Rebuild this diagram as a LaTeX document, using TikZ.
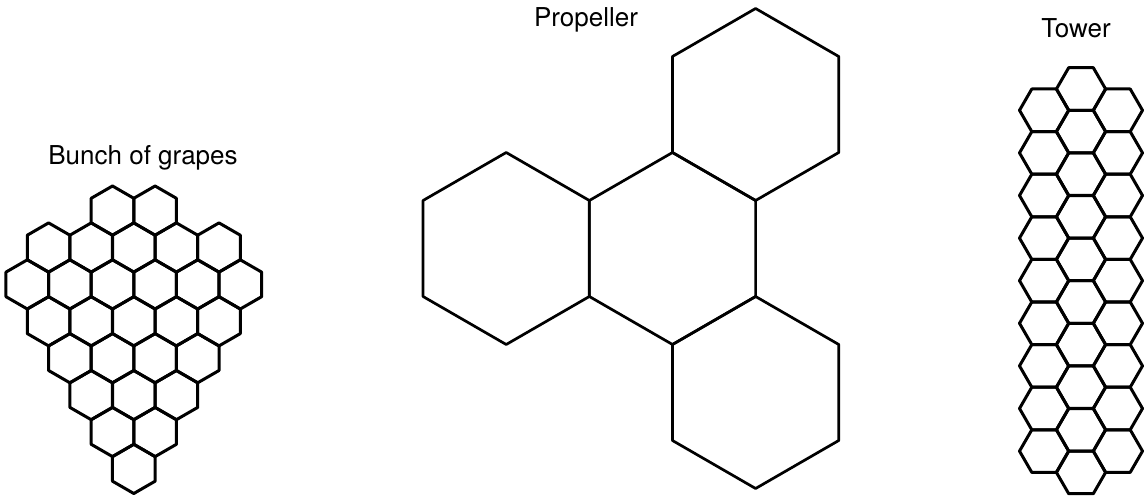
\documentclass[tikz,border=0pt]{standalone}
\usepackage{fontspec}
\setmainfont{TeX Gyre Heros}
\usetikzlibrary{shapes.geometric, positioning}

\begin{document}
\begin{tikzpicture}[
  x=1pt, y=-1pt,
  cell/.style={
    regular polygon, regular polygon sides=6, draw=black, line width=3pt,
    line join=round, minimum size=49.2pt, inner sep=0pt, outer sep=0pt},
  upcell/.style={cell, shape border rotate=30},
  blade/.style={upcell, minimum size=192pt, line width=2.7pt},
  lbl/.style={font=\fontsize{26}{30}\selectfont, anchor=base, inner sep=0pt}
]
\useasboundingbox (0,0) rectangle (1146,497);
% ── Bunch of grapes ──
\foreach \r/\a/\n in {1/4/2, 2/1/5, 3/0/6, 4/1/5, 5/2/4, 6/3/3, 7/4/2, 8/5/1}
  \foreach \i in {1,...,\n}
    \node[upcell] (g-\r-\i) at ({27.3 + (\a + 2*(\i-1))*21.3}, {210.6 + (\r-1)*36.9}) {};
% ── Propeller ──
\node[blade] (hub)    at (672.5,248.5) {};
\node[blade] (bladeA) at (755.6,104.5) {};
\node[blade] (bladeB) at (506.2,248.5) {};
\node[blade] (bladeC) at (755.6,392.5) {};
% ── Tower ──
\foreach \c/\x/\y/\n in {l/1044.1/110.3/9, m/1081/89/10, r/1117.9/110.3/9}
  \foreach \j in {1,...,\n}
    \node[cell] (t-\c-\j) at (\x, {\y + (\j-1)*42.6}) {};
% ── Labels ──
\node[lbl] (grapes)    at (143,165)    {Bunch of grapes};
\node[lbl] (propeller) at (586,26.7)   {Propeller};
\node[lbl] (tower)     at (1076,37.5)  {Tower};
\end{tikzpicture}
\end{document}
